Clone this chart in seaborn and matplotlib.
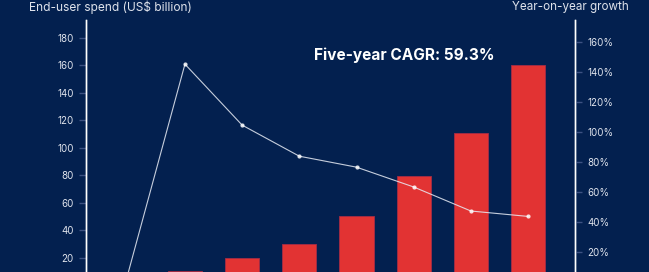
import matplotlib
matplotlib.use("Agg")
import matplotlib.pyplot as plt
import seaborn as sns
import pandas as pd

years = ["2023", "2024", "2025", "2026", "2027", "2028", "2029", "2030"]
spend = [4, 10.7, 20, 30, 50.5, 79.6, 111, 160.4]
growth = [5, 145, 104.4, 83.7, 76.4, 63.2, 47.2, 43.6]
left_ticks = [20, 40, 60, 80, 100, 120, 140, 160, 180]
right_ticks = [20, 40, 60, 80, 100, 120, 140, 160]

BG = "#03204f"
RED = "#e23333"
TXT = "#dfe3ec"

sns.set_theme(style="white")
plt.rcParams['font.family'] = ['Inter', 'DejaVu Sans']

fig = plt.figure(figsize=(6.49, 2.72), dpi=100, facecolor=BG)
ax = fig.add_axes([86/649, 1-285.4/272, (575-86)/649, (285.4-20)/272])
ax.set_facecolor(BG)

df = pd.DataFrame({"year": years, "spend": spend, "growth": growth, "idx": range(len(years))})
sns.barplot(data=df, x="year", y="spend", color=RED, width=0.6, ax=ax,
            saturation=1, edgecolor="#a52c45", linewidth=0.6)
ax.set_xlim(-0.73, 7.82)
ax.set_ylim(0, 193)
ax.set_yticks(left_ticks)
ax.set_yticklabels([str(t) for t in left_ticks])
ax.set_xlabel("")
ax.set_ylabel("")

ax2 = ax.twinx()
sns.lineplot(data=df, x="idx", y="growth", ax=ax2, color="#e8ecf5", lw=0.8, alpha=0.85,
             marker="o", markersize=3, markeredgewidth=0, markerfacecolor="white")
ax2.set_xlim(-0.73, 7.82)
ax2.set_ylim(-2.33, 174.4)
ax2.set_yticks(right_ticks)
ax2.set_yticklabels([f"{t}%" for t in right_ticks])
ax2.set_ylabel("")
ax2.set_xlabel("")

for a in (ax, ax2):
    a.spines["top"].set_visible(False)
    a.spines["bottom"].set_visible(False)
    a.spines["left"].set_color("white")
    a.spines["right"].set_color("white")
    a.spines["left"].set_linewidth(1.0)
    a.spines["right"].set_linewidth(1.0)
    a.tick_params(axis="y", colors="#3d5282", labelcolor=TXT, labelsize=7,
                  length=5, width=1, pad=4)
    a.tick_params(axis="x", length=0, labelbottom=False)
ax.tick_params(axis="y", left=True, right=False)
ax2.tick_params(axis="y", right=True, left=False)

fig.text(29/649, 1-7/272, "End-user spend (US$ billion)", color=TXT, fontsize=8.6,
         ha="left", va="center")
fig.text(629/649, 1-7/272, "Year-on-year growth", color=TXT, fontsize=8.4,
         ha="right", va="center")
ax.text(314, 272-55, "Five-year CAGR: 59.3%", transform=None, color="white",
        fontsize=11.1, fontweight="bold", ha="left", va="center")

fig.savefig("out.png", dpi=100, facecolor=BG)
